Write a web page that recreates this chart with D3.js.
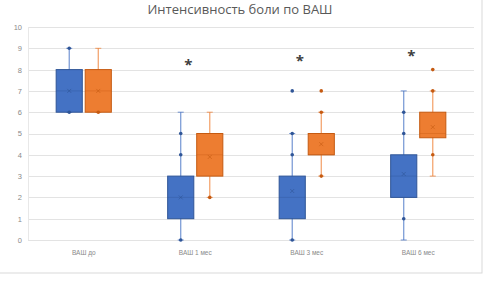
<!DOCTYPE html>
<html>
<head>
<meta charset="utf-8">
<script src="https://cdn.jsdelivr.net/npm/d3@7"></script>
<style>
  body { margin: 0; background: #fff; }
  svg { display: block; font-family: "Open Sans", "Liberation Sans", sans-serif; }
</style>
</head>
<body>
<svg id="chart" width="488" height="283"></svg>
<script>
// categories and y ticks
const categories = ['ВАШ до', 'ВАШ 1 мес', 'ВАШ 3 мес', 'ВАШ 6 мес'];
const yTicks = [0, 1, 2, 3, 4, 5, 6, 7, 8, 9, 10];
const seriesNames = ['s1', 's2'];
const seriesColors = { s1: '#4472C4', s2: '#ED7D31' };
const seriesStroke = { s1: '#2F5597', s2: '#C55A11' };

// box stats, one value per category
const s1Q1 = [6, 1, 1, 2];
const s1Median = [7, 2, 2, 3];
const s1Q3 = [8, 3, 3, 4];
const s1Low = [6, 0, 0, 0];
const s1High = [9, 6, 5, 7];
const s1Mean = [7, 2, 2.3, 3.1];
const s1Points = [[9, 6], [0, 4, 5], [0, 4, 5, 7], [1, 5, 6]];

const s2Q1 = [6, 3, 4, 4.8];
const s2Median = [7, 4, 4, 5];
const s2Q3 = [8, 5, 5, 6];
const s2Low = [6, 2, 3, 3];
const s2High = [9, 6, 6, 7];
const s2Mean = [7, 3.9, 4.5, 5.3];
const s2Points = [[6], [2], [3, 6, 7], [4, 7, 8]];

// significance marks
const starValues = [null, 8.3, 8.5, 8.75];

const width = 488, height = 283;
const svg = d3.select('#chart');

// chart frame
svg.append('rect')
  .attr('x', -1).attr('y', -1)
  .attr('width', 483).attr('height', 274)
  .attr('fill', '#fff')
  .attr('stroke', '#d9d9d9');

const x = d3.scaleBand()
  .domain(categories)
  .range([28, 474]);

const xs = d3.scaleBand()
  .domain(seriesNames)
  .range([0, x.bandwidth()])
  .paddingInner(0.1)
  .paddingOuter(0.97);

const y = d3.scaleLinear()
  .domain([0, 10])
  .range([240, 27]);

// gridlines
svg.append('g')
  .selectAll('line')
  .data(yTicks)
  .enter().append('line')
  .attr('x1', 28).attr('x2', 474)
  .attr('y1', d => Math.round(y(d)) + 0.5)
  .attr('y2', d => Math.round(y(d)) + 0.5)
  .attr('stroke', '#e3e3e3');

svg.append('line')
  .attr('x1', 28.5).attr('x2', 28.5)
  .attr('y1', y(10)).attr('y2', y(0))
  .attr('stroke', '#e8e8e8');

// y axis labels
const yAxis = svg.append('g')
  .attr('transform', 'translate(22,0)')
  .call(d3.axisLeft(y).tickValues(yTicks).tickSize(0).tickPadding(0));
yAxis.select('.domain').remove();
yAxis.selectAll('text')
  .attr('fill', '#8a8a8a')
  .style('font-size', '7.5px');

// x axis labels
const xAxis = svg.append('g')
  .attr('transform', 'translate(0,250)')
  .call(d3.axisBottom(x).tickSize(0).tickPadding(0));
xAxis.select('.domain').remove();
xAxis.selectAll('text')
  .attr('fill', '#8a8a8a')
  .style('font-size', '6.5px');

// title
svg.append('text')
  .attr('x', 240).attr('y', 14)
  .attr('text-anchor', 'middle')
  .attr('fill', '#595959')
  .style('font-size', '13px')
  .text('Интенсивность боли по ВАШ');

const series = [
  { key: 's1', q1: s1Q1, med: s1Median, q3: s1Q3, lo: s1Low, hi: s1High, mean: s1Mean, pts: s1Points },
  { key: 's2', q1: s2Q1, med: s2Median, q3: s2Q3, lo: s2Low, hi: s2High, mean: s2Mean, pts: s2Points }
];

series.forEach(s => {
  const g = svg.append('g');
  const fill = seriesColors[s.key];
  const stroke = seriesStroke[s.key];
  const bw = xs.bandwidth();
  const cx = i => x(categories[i]) + xs(s.key) + bw / 2;
  const idx = d3.range(categories.length);

  // whiskers
  g.selectAll('.whisker')
    .data(idx)
    .enter().append('line')
    .attr('x1', cx).attr('x2', cx)
    .attr('y1', i => y(s.lo[i]))
    .attr('y2', i => y(s.hi[i]))
    .attr('stroke', fill)
    .attr('stroke-opacity', 0.75)
    .attr('stroke-width', 1.2);

  // caps
  idx.forEach(i => {
    [s.lo[i], s.hi[i]].forEach(v => {
      g.append('line')
        .attr('x1', cx(i) - 3).attr('x2', cx(i) + 3)
        .attr('y1', y(v)).attr('y2', y(v))
        .attr('stroke', fill)
        .attr('stroke-opacity', 0.75);
    });
  });

  // boxes
  g.selectAll('.box')
    .data(idx)
    .enter().append('rect')
    .attr('x', i => cx(i) - bw / 2)
    .attr('y', i => y(s.q3[i]))
    .attr('width', bw)
    .attr('height', i => y(s.q1[i]) - y(s.q3[i]))
    .attr('fill', fill)
    .attr('stroke', stroke)
    .attr('stroke-width', 1);

  // medians
  g.selectAll('.median')
    .data(idx)
    .enter().append('line')
    .attr('x1', i => cx(i) - bw / 2)
    .attr('x2', i => cx(i) + bw / 2)
    .attr('y1', i => y(s.med[i]))
    .attr('y2', i => y(s.med[i]))
    .attr('stroke', stroke)
    .attr('stroke-opacity', 0.35);

  // points
  idx.forEach(i => {
    g.selectAll(null)
      .data(s.pts[i])
      .enter().append('circle')
      .attr('cx', cx(i))
      .attr('cy', d => y(d))
      .attr('r', 1.8)
      .attr('fill', stroke);
  });

  // mean markers
  g.selectAll('.mean')
    .data(idx)
    .enter().append('path')
    .attr('d', i => {
      const px = cx(i), py = y(s.mean[i]), r = 2;
      return `M${px - r},${py - r}L${px + r},${py + r}M${px - r},${py + r}L${px + r},${py - r}`;
    })
    .attr('stroke', stroke)
    .attr('stroke-opacity', 0.6)
    .attr('stroke-width', 1);
});

// stars
svg.append('g')
  .selectAll('text')
  .data(categories.map((c, i) => ({ c, v: starValues[i] })).filter(d => d.v !== null))
  .enter().append('text')
  .attr('x', d => x(d.c) + x.bandwidth() / 2 - 7)
  .attr('y', d => y(d.v) + 7)
  .attr('text-anchor', 'middle')
  .attr('fill', '#404040')
  .style('font-size', '15px')
  .style('font-weight', 'bold')
  .text('*');
</script>
</body>
</html>
